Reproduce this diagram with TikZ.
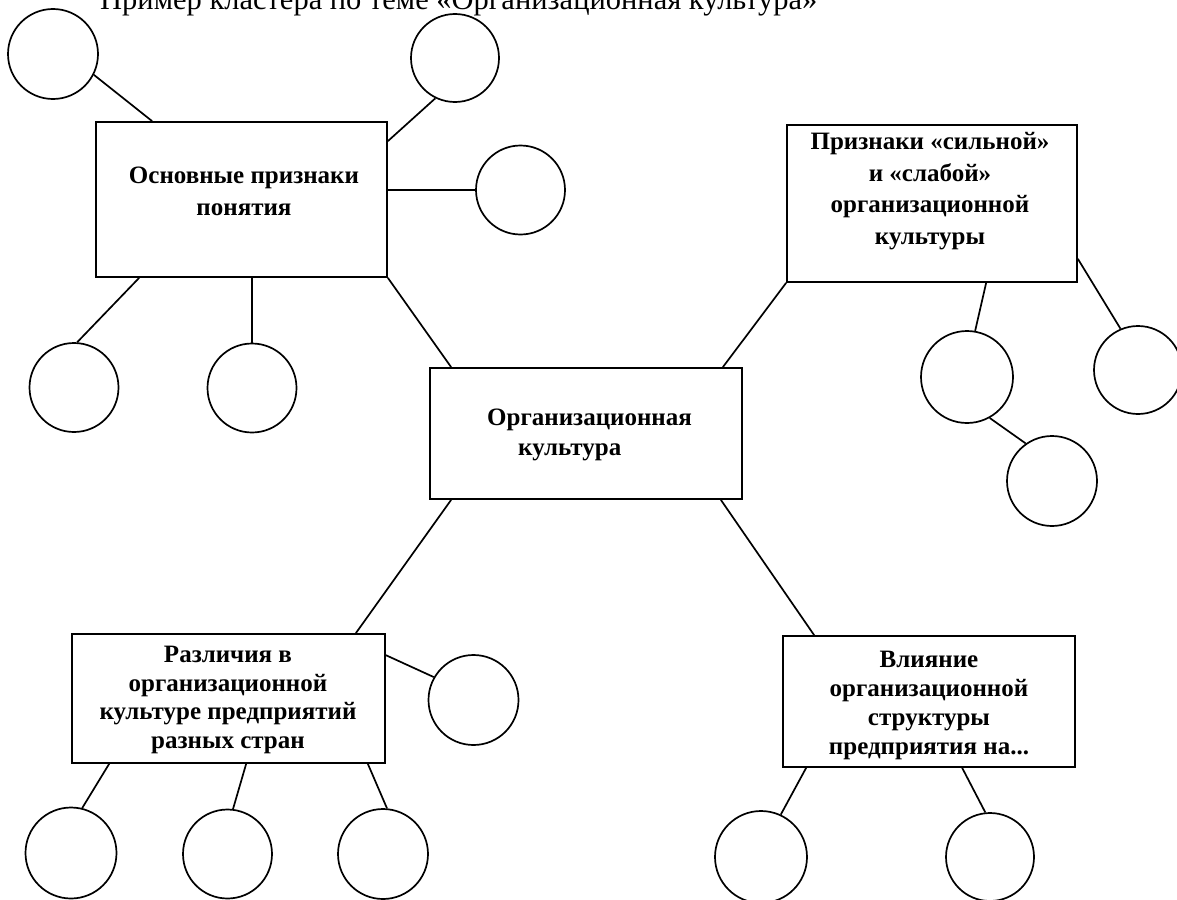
\documentclass[tikz,border=0pt]{standalone}
\usepackage{fontspec}
\setmainfont{Liberation Serif}
\usetikzlibrary{calc}
\begin{document}
\begin{tikzpicture}[x=1pt,y=-1pt,
  ln/.style={line width=1.7pt, black},
  bubble/.style={circle, draw, line width=1.7pt, inner sep=0pt},
  boxnode/.style={rectangle, draw, line width=1.7pt, inner sep=0pt},
  lbl/.style={font=\bfseries\fontsize{25}{31}\selectfont, align=center, inner sep=0pt}]
\useasboundingbox (0,0) rectangle (1177,899);
\clip (0,0) rectangle (1177,899);
\fill[white] (0,0) rectangle (1177,899);

% title
\node[anchor=base west, inner sep=0pt, font=\fontsize{30.5}{36}\selectfont] (title) at (100,10) {Пример кластера по теме «Организационная культура»};

% boxes
\node[boxnode, minimum width=291pt, minimum height=155pt] (A) at (241.5,199.5) {};
\node[boxnode, minimum width=312pt, minimum height=131pt] (B) at (586,433.5) {};
\node[boxnode, minimum width=290pt, minimum height=157pt] (R) at (932,203.5) {};
\node[boxnode, minimum width=313pt, minimum height=129pt] (L) at (228.5,698.5) {};
\node[boxnode, minimum width=292pt, minimum height=131pt] (W) at (929,701.5) {};

% texts
\node[lbl, font=\bfseries\fontsize{25}{32}\selectfont] (At) at (244,191) {Основные признаки\\понятия};
\node[lbl, align=left, anchor=west, font=\bfseries\fontsize{25}{30}\selectfont] (Bt) at (487,435) {Организационная\\\hspace*{31pt}культура};
\node[lbl, font=\bfseries\fontsize{25}{31.7}\selectfont] (Rt) at (930,191) {Признаки «сильной»\\и «слабой»\\организационной\\культуры};
\node[lbl, font=\bfseries\fontsize{25}{28.5}\selectfont] (Lt) at (228,700) {Различия в\\организационной\\культуре предприятий\\разных стран};
\node[lbl, font=\bfseries\fontsize{25}{29}\selectfont] (Wt) at (929,705) {Влияние\\организационной\\структуры\\предприятия на...};

% circles
\node[bubble, minimum size=90pt] (C1) at (53,54) {};
\node[bubble, minimum size=88pt] (C2) at (455,58) {};
\node[bubble, minimum size=89pt] (C3) at (520.5,190) {};
\node[bubble, minimum size=89pt] (C4) at (74,387.5) {};
\node[bubble, minimum size=89pt] (C5) at (252,388) {};
\node[bubble, minimum size=92pt] (R1) at (967,377) {};
\node[bubble, minimum size=88pt] (R2) at (1138,370) {};
\node[bubble, minimum size=90pt] (R3) at (1052,481) {};
\node[bubble, minimum size=90pt] (L1) at (473.5,700) {};
\node[bubble, minimum size=91pt] (Lb1) at (71,853) {};
\node[bubble, minimum size=89pt] (Lb2) at (227.5,854) {};
\node[bubble, minimum size=90pt] (Lb3) at (383,854) {};
\node[bubble, minimum size=92pt] (W1) at (761,857) {};
\node[bubble, minimum size=88pt] (W2) at (990,857) {};

% connectors
\draw[ln] (C1.-27) -- ([xshift=57pt]A.north west);
\draw[ln] (C2.-116) -- ([yshift=-20pt]A.north east);
\draw[ln] (C3.west) -- (C3.west -| A.east);
\draw[ln] ([xshift=44pt]A.south west) -- (C4.86);
\draw[ln] (C5.north) -- (C5.north |- A.south);
\draw[ln] (A.south east) -- ([xshift=22pt]B.north west);
\draw[ln] ([xshift=-20pt]B.north east) -- (R.south west);
\draw[ln] ([xshift=200pt]R.south west) -- (R1.80);
\draw[ln] ([yshift=24pt]R.south east) -- (R2.113);
\draw[ln] (R1.-61) -- (R3.125);
\draw[ln] ([xshift=22pt]B.south west) -- ([xshift=-30pt]L.north east);
\draw[ln] ([yshift=-22pt]L.north east) -- (L1.150);
\draw[ln] ([xshift=38pt]L.south west) -- (Lb1.76);
\draw[ln] ([xshift=175pt]L.south west) -- (Lb2.83);
\draw[ln] ([xshift=-18pt]L.south east) -- (Lb3.85);
\draw[ln] ([xshift=-22pt]B.south east) -- ([xshift=32pt]W.north west);
\draw[ln] ([xshift=24pt]W.south west) -- (W1.65);
\draw[ln] ([xshift=180pt]W.south west) -- (W2.96);
\end{tikzpicture}
\end{document}
